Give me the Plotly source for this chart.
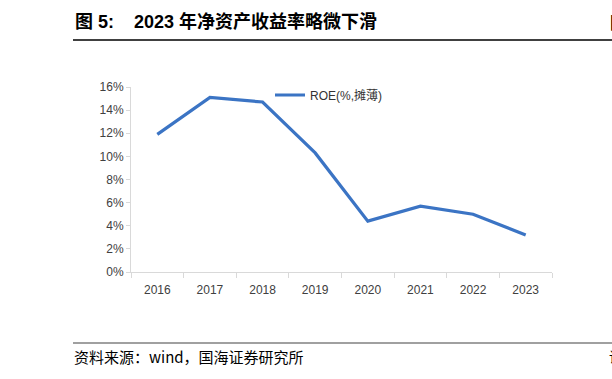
import plotly.graph_objects as go

years = ["2016", "2017", "2018", "2019", "2020", "2021", "2022", "2023"]
roe = [11.9, 15.1, 14.7, 10.3, 4.4, 5.7, 5.0, 3.2]
series_name = "ROE(%,摊薄)"
title_text = "图 5:&nbsp;&nbsp;&nbsp;&nbsp;2023 年净资产收益率略微下滑"
source_text = "资料来源：wind，国海证券研究所"

W, H = 612, 379
L, R, T, B = 131, 552, 87, 272

def px(x):
    return (x - L) / (R - L)

def py(y):
    return (B - y) / (B - T)

fig = go.Figure()
fig.add_trace(go.Scatter(
    x=years, y=roe, mode="lines", name=series_name,
    line=dict(color="#3b74c4", width=3.2),
))

fig.update_layout(
    width=W, height=H,
    margin=dict(l=L, r=W - R, t=T, b=H - B),
    paper_bgcolor="white", plot_bgcolor="white",
    font=dict(family="Liberation Sans, Arial, Noto Sans CJK SC", size=12, color="#404040"),
    showlegend=True,
    legend=dict(x=px(270), y=py(95), xanchor="left", yanchor="middle",
                font=dict(size=12, color="#333333", family="Liberation Sans, Noto Sans CJK SC"),
                bgcolor="rgba(0,0,0,0)", itemwidth=30),
    xaxis=dict(
        type="category", range=[-0.5, len(years) - 0.5],
        showline=True, linecolor="#d9d9d9", linewidth=1,
        ticks="outside", tickson="boundaries", ticklen=5, tickcolor="#d9d9d9",
        ticklabelstandoff=7,
        showgrid=False, tickfont=dict(size=12, color="#404040"),
    ),
    yaxis=dict(
        range=[0, 16], dtick=2, ticksuffix="%",
        showline=True, linecolor="#d9d9d9", linewidth=1,
        ticks="outside", ticklen=4, tickcolor="#d9d9d9",
        showgrid=False, zeroline=False, tickfont=dict(size=12, color="#404040"),
    ),
)

fig.add_annotation(
    text="<b>" + title_text + "</b>", xref="paper", yref="paper",
    x=px(73), y=py(21), xanchor="left", yanchor="middle", showarrow=False,
    font=dict(size=18, color="#000000", family="Liberation Sans, Noto Sans CJK SC"),
)
fig.add_annotation(
    text="<b>图</b>", xref="paper", yref="paper",
    x=px(608), y=py(21), xanchor="left", yanchor="middle", showarrow=False,
    font=dict(size=17, color="#000000", family="Noto Sans CJK SC"),
)
fig.add_annotation(
    text=source_text, xref="paper", yref="paper",
    x=px(72), y=py(356), xanchor="left", yanchor="middle", showarrow=False,
    font=dict(size=15, color="#000000", family="Noto Sans CJK SC"),
)
fig.add_annotation(
    text="请", xref="paper", yref="paper",
    x=px(607), y=py(356), xanchor="left", yanchor="middle", showarrow=False,
    font=dict(size=14, color="#000000", family="Noto Sans CJK SC"),
)

fig.add_shape(type="line", xref="paper", yref="paper",
              x0=px(73), x1=px(612), y0=py(40), y1=py(40),
              line=dict(color="#000000", width=1.5))
fig.add_shape(type="line", xref="paper", yref="paper",
              x0=px(73), x1=px(612), y0=py(343), y1=py(343),
              line=dict(color="#808080", width=1.5))

fig.write_html("out.html", config={"displayModeBar": False},
               post_script="document.body.style.margin='0';document.body.style.overflow='hidden';")
